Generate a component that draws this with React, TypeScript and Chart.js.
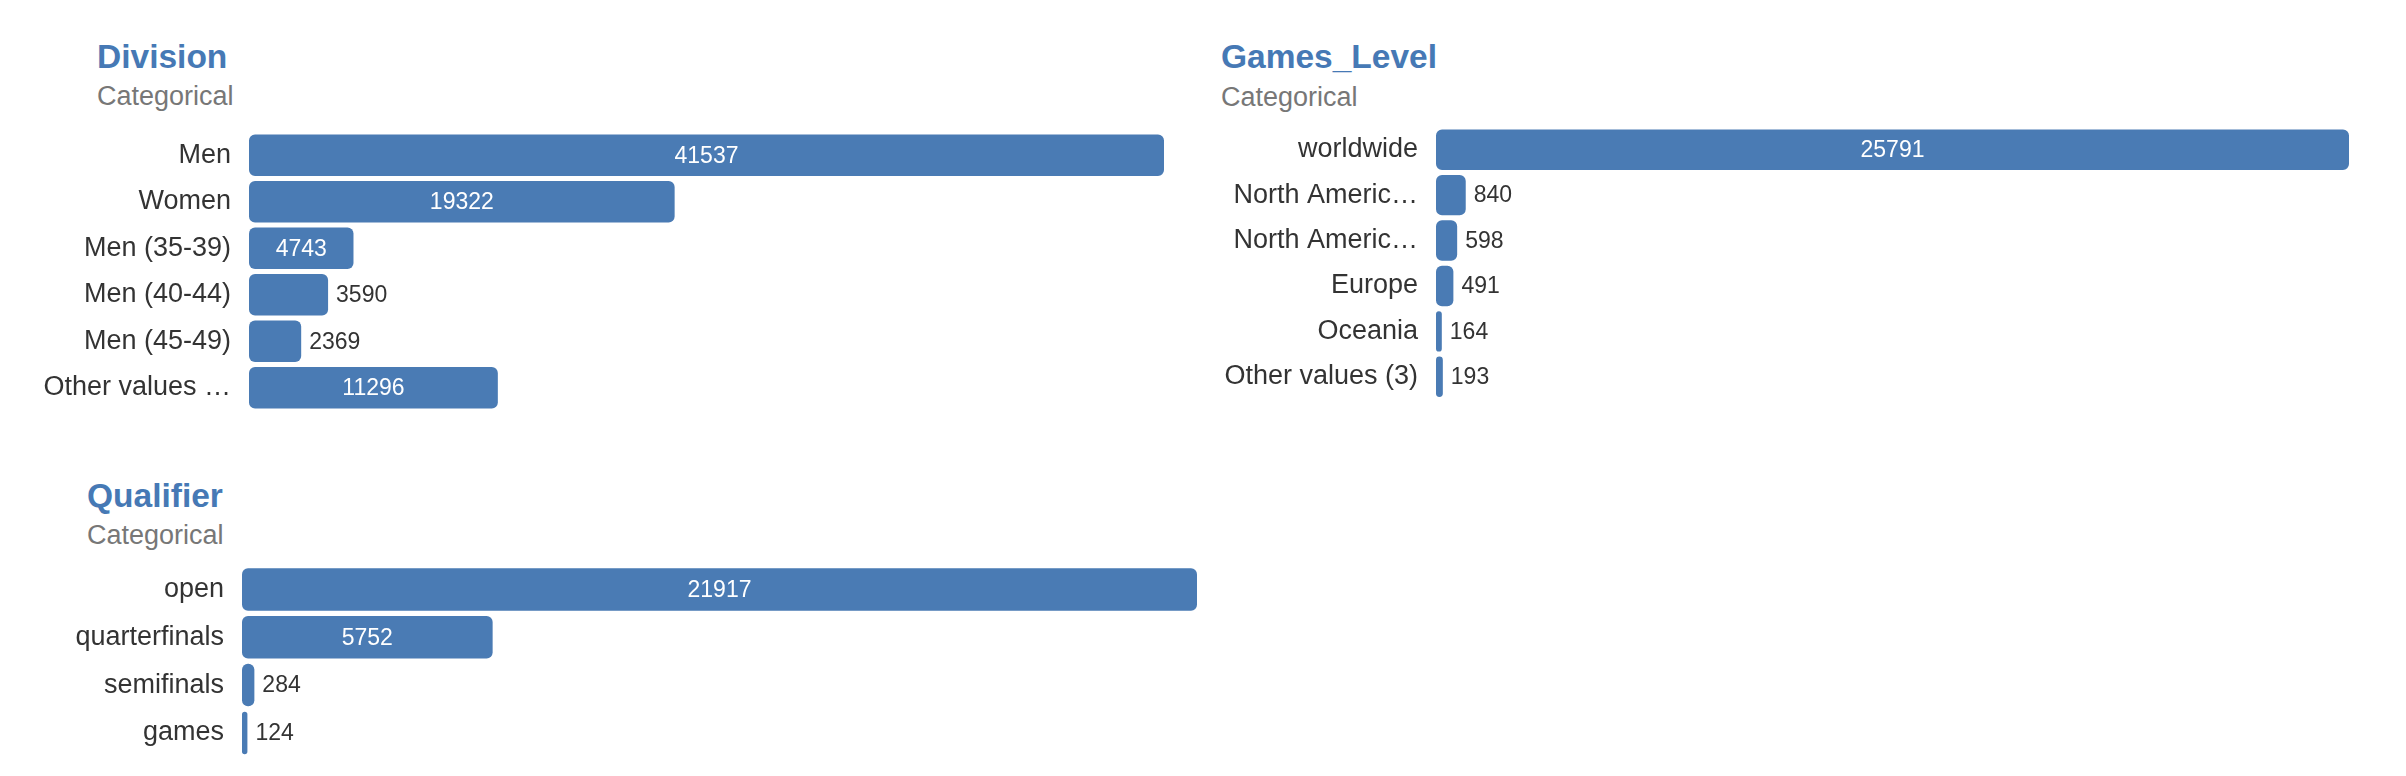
import React, { useEffect, useRef } from 'react';
import { Chart, registerables } from 'chart.js';

Chart.register(...registerables);

// ---- Data ----
const divisionLabels = ['Men', 'Women', 'Men (35-39)', 'Men (40-44)', 'Men (45-49)', 'Other values …'];
const divisionValues = [41537, 19322, 4743, 3590, 2369, 11296];

const gamesLevelLabels = ['worldwide', 'North Americ…', 'North Americ…', 'Europe', 'Oceania', 'Other values (3)'];
const gamesLevelValues = [25791, 840, 598, 491, 164, 193];

const qualifierLabels = ['open', 'quarterfinals', 'semifinals', 'games'];
const qualifierValues = [21917, 5752, 284, 124];

// ---- Styles ----
const FONT = '"Liberation Sans", Arial, Helvetica, sans-serif';
const BAR_COLOR = '#4a7bb4';
const TITLE_COLOR = '#4679b5';
const LABEL_COLOR = '#333333';
const SUB_COLOR = '#777777';

const valuePlugin = {
  id: 'valueLabels',
  afterDatasetsDraw(chart: any) {
    const ctx = chart.ctx;
    const meta = chart.getDatasetMeta(0);
    const data = chart.data.datasets[0].data as number[];
    ctx.save();
    ctx.font = `23px ${FONT}`;
    ctx.textBaseline = 'middle';
    meta.data.forEach((bar: any, i: number) => {
      const { x, y, base } = bar.getProps(['x', 'y', 'base'], true);
      const text = String(data[i]);
      const tw = ctx.measureText(text).width;
      const w = x - base;
      if (w >= tw + 40) {
        ctx.fillStyle = '#ffffff';
        ctx.textAlign = 'center';
        ctx.fillText(text, (x + base) / 2, y + 1);
      } else {
        ctx.fillStyle = LABEL_COLOR;
        ctx.textAlign = 'left';
        ctx.fillText(text, x + 8, y + 1);
      }
    });
    ctx.restore();
  },
};

type PanelProps = {
  title: string;
  labels: string[];
  values: number[];
  titleLeft: number;
  titleBaseline: number;
  subBaseline: number;
  canvasLeft: number;
  canvasTop: number;
  canvasWidth: number;
  canvasHeight: number;
  axisWidth: number;
  padTop: number;
  padBottom: number;
  padRight: number;
};

function Panel(p: PanelProps) {
  const ref = useRef<HTMLCanvasElement | null>(null);

  useEffect(() => {
    if (!ref.current) return;
    const chart = new Chart(ref.current, {
      type: 'bar',
      data: {
        labels: p.labels,
        datasets: [
          {
            data: p.values,
            backgroundColor: BAR_COLOR,
            borderWidth: 0,
            borderRadius: 6,
            borderSkipped: false,
            barPercentage: 1,
            categoryPercentage: 0.89,
          },
        ],
      },
      options: {
        indexAxis: 'y',
        animation: false,
        responsive: false,
        maintainAspectRatio: false,
        devicePixelRatio: 1,
        layout: {
          padding: { left: 0, top: p.padTop, bottom: p.padBottom, right: p.padRight },
        },
        plugins: {
          legend: { display: false },
          tooltip: { enabled: false },
          title: { display: false },
        },
        scales: {
          x: {
            display: false,
            min: 0,
            max: Math.max(...p.values),
          },
          y: {
            grid: { display: false, drawTicks: false },
            border: { display: false },
            ticks: {
              padding: 18,
              color: LABEL_COLOR,
              font: { family: FONT, size: 27 },
              autoSkip: false,
            },
            afterFit(scale: any) {
              scale.width = p.axisWidth;
              scale.paddingTop = 0;
              scale.paddingBottom = 0;
            },
          },
        },
      },
      plugins: [valuePlugin],
    });
    return () => chart.destroy();
  }, []);

  const titleSize = 33.5;
  const subSize = 27;
  return (
    <>
      <div
        style={{
          position: 'absolute',
          left: p.titleLeft,
          top: p.titleBaseline - 0.8465 * titleSize,
          fontFamily: FONT,
          fontWeight: 'bold',
          fontSize: titleSize,
          lineHeight: `${titleSize}px`,
          color: TITLE_COLOR,
          whiteSpace: 'nowrap',
        }}
      >
        {p.title}
      </div>
      <div
        style={{
          position: 'absolute',
          left: p.titleLeft,
          top: p.subBaseline - 0.8465 * subSize,
          fontFamily: FONT,
          fontSize: subSize,
          lineHeight: `${subSize}px`,
          color: SUB_COLOR,
          whiteSpace: 'nowrap',
        }}
      >
        Categorical
      </div>
      <canvas
        ref={ref}
        width={p.canvasWidth}
        height={p.canvasHeight}
        style={{
          position: 'absolute',
          left: p.canvasLeft,
          top: p.canvasTop,
          width: p.canvasWidth,
          height: p.canvasHeight,
        }}
      />
    </>
  );
}

export default function App() {
  return (
    <div
      style={{
        position: 'absolute',
        left: 0,
        top: 0,
        width: 2406,
        height: 776,
        overflow: 'hidden',
        background: '#ffffff',
      }}
    >
      <Panel
        title="Division"
        labels={divisionLabels}
        values={divisionValues}
        titleLeft={97}
        titleBaseline={68}
        subBaseline={106}
        canvasLeft={0}
        canvasTop={120}
        canvasWidth={1200}
        canvasHeight={300}
        axisWidth={249}
        padTop={12}
        padBottom={9}
        padRight={36}
      />
      <Panel
        title="Games_Level"
        labels={gamesLevelLabels}
        values={gamesLevelValues}
        titleLeft={1221}
        titleBaseline={68}
        subBaseline={106.5}
        canvasLeft={1200}
        canvasTop={115}
        canvasWidth={1206}
        canvasHeight={300}
        axisWidth={236}
        padTop={12}
        padBottom={15.5}
        padRight={57}
      />
      <Panel
        title="Qualifier"
        labels={qualifierLabels}
        values={qualifierValues}
        titleLeft={87}
        titleBaseline={507}
        subBaseline={545}
        canvasLeft={0}
        canvasTop={555}
        canvasWidth={1220}
        canvasHeight={215}
        axisWidth={242}
        padTop={10.6}
        padBottom={13.2}
        padRight={23}
      />
    </div>
  );
}
